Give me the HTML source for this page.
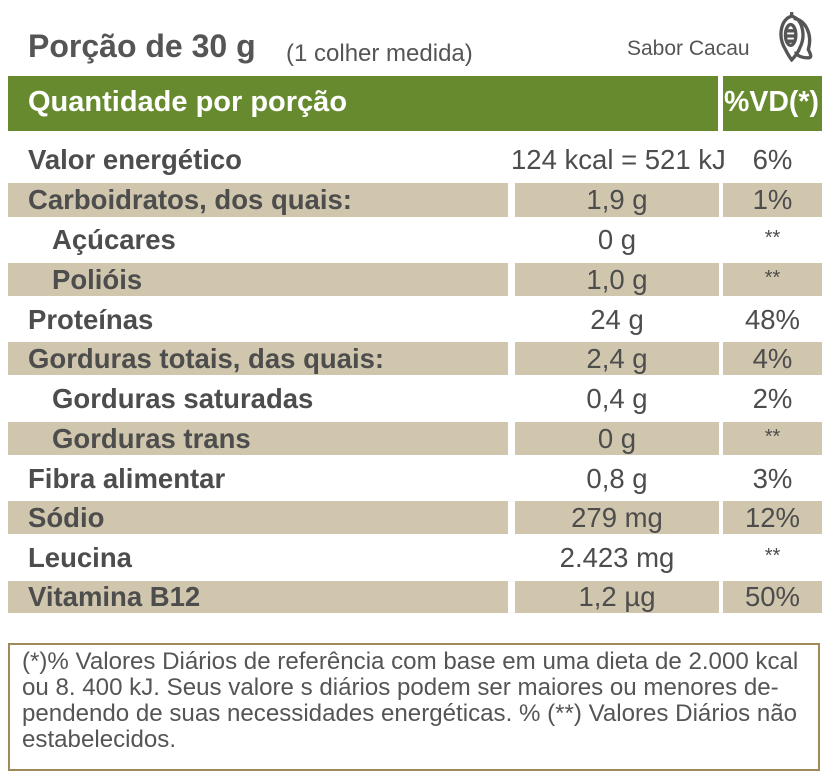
<!DOCTYPE html>
<html><head><meta charset="utf-8"><style>
*{margin:0;padding:0;box-sizing:border-box}
body{width:829px;height:782px;background:#fff;font-family:"Liberation Sans",sans-serif;color:#4d4d4d;position:relative;overflow:hidden}
.a{position:absolute;white-space:nowrap}
.bg{position:absolute;background:#d0c6ad}
.g{position:absolute;background:#678a2e}
.l{position:absolute;left:28px;font-weight:bold;font-size:27.5px;line-height:34px;white-space:nowrap}
.v{position:absolute;left:515px;width:204px;text-align:center;font-size:27.5px;line-height:34px}
.p{position:absolute;left:723px;width:99px;text-align:center;font-size:27.5px;line-height:34px}
.s{font-size:20px}
</style></head><body>
<div class="a" style="left:28px;top:28px;font-size:32px;font-weight:bold;color:#555">Porção de 30 g</div>
<div class="a" style="left:286px;top:40px;font-size:24px;color:#555">(1 colher medida)</div>
<div class="a" style="left:627px;top:37px;font-size:21px;color:#555">Sabor Cacau</div>
<svg class="a" style="left:776px;top:10px" width="48" height="52" viewBox="0 0 44 50" fill="none" stroke="#555" stroke-width="3.2">
<path d="M14 2 L14 7"/><path d="M14 6 C4 8 0 25 8 38 C11 44 14 48 14 48 C14 48 20 42 22 36 C28 24 24 8 14 6Z"/>
<path d="M16 8 C28 10 34 24 30 38 C32 42 34 46 30 46 C24 46 18 44 18 40"/>
<ellipse cx="13" cy="24" rx="5" ry="10"/><path d="M8 20 H18 M8 25 H18 M8 30 H18"/>
</svg>
<div class="g" style="left:8px;top:76px;width:710px;height:55px"></div>
<div class="g" style="left:723px;top:76px;width:99px;height:55px"></div>
<div class="a" style="left:28px;top:86px;font-size:29px;font-weight:bold;color:#fff">Quantidade por porção</div>
<div class="a" style="left:724px;top:86px;font-size:28.5px;font-weight:bold;color:#fff">%VD(*)</div>

<div class="l" style="top:143px">Valor energético</div>
<div class="a" style="left:511px;top:143px;font-size:27.5px;line-height:34px">124 kcal = 521 kJ</div>
<div class="p" style="top:143px">6%</div>

<div class="bg" style="left:8px;top:183px;width:500px;height:34px"></div><div class="bg" style="left:515px;top:183px;width:204px;height:34px"></div><div class="bg" style="left:723px;top:183px;width:99px;height:34px"></div>
<div class="l" style="top:183px">Carboidratos, dos quais:</div><div class="v" style="top:183px">1,9 g</div><div class="p" style="top:183px">1%</div>

<div class="l" style="top:223px;left:52px">Açúcares</div><div class="v" style="top:223px">0 g</div><div class="p s" style="top:221px">**</div>

<div class="bg" style="left:8px;top:263px;width:500px;height:33px"></div><div class="bg" style="left:515px;top:263px;width:204px;height:33px"></div><div class="bg" style="left:723px;top:263px;width:99px;height:33px"></div>
<div class="l" style="top:263px;left:52px">Polióis</div><div class="v" style="top:263px">1,0 g</div><div class="p s" style="top:261px">**</div>

<div class="l" style="top:303px">Proteínas</div><div class="v" style="top:303px">24 g</div><div class="p" style="top:303px">48%</div>

<div class="bg" style="left:8px;top:342px;width:500px;height:33px"></div><div class="bg" style="left:515px;top:342px;width:204px;height:33px"></div><div class="bg" style="left:723px;top:342px;width:99px;height:33px"></div>
<div class="l" style="top:342px">Gorduras totais, das quais:</div><div class="v" style="top:342px">2,4 g</div><div class="p" style="top:342px">4%</div>

<div class="l" style="top:382px;left:52px">Gorduras saturadas</div><div class="v" style="top:382px">0,4 g</div><div class="p" style="top:382px">2%</div>

<div class="bg" style="left:8px;top:422px;width:500px;height:33px"></div><div class="bg" style="left:515px;top:422px;width:204px;height:33px"></div><div class="bg" style="left:723px;top:422px;width:99px;height:33px"></div>
<div class="l" style="top:422px;left:52px">Gorduras trans</div><div class="v" style="top:422px">0 g</div><div class="p s" style="top:420px">**</div>

<div class="l" style="top:462px">Fibra alimentar</div><div class="v" style="top:462px">0,8 g</div><div class="p" style="top:462px">3%</div>

<div class="bg" style="left:8px;top:501px;width:500px;height:33px"></div><div class="bg" style="left:515px;top:501px;width:204px;height:33px"></div><div class="bg" style="left:723px;top:501px;width:99px;height:33px"></div>
<div class="l" style="top:501px">Sódio</div><div class="v" style="top:501px">279 mg</div><div class="p" style="top:501px">12%</div>

<div class="l" style="top:541px">Leucina</div><div class="v" style="top:541px">2.423 mg</div><div class="p s" style="top:539px">**</div>

<div class="bg" style="left:8px;top:581px;width:500px;height:32px"></div><div class="bg" style="left:515px;top:581px;width:204px;height:32px"></div><div class="bg" style="left:723px;top:581px;width:99px;height:32px"></div>
<div class="l" style="top:580px">Vitamina B12</div><div class="v" style="top:580px">1,2 µg</div><div class="p" style="top:580px">50%</div>

<div class="a" style="left:8px;top:643px;width:812px;height:128px;border:2px solid #a08a5a"></div>
<div class="a" style="left:22px;top:649px;width:795px;font-size:24.1px;line-height:26px;color:#555;white-space:nowrap">(*)% Valores Diários de referência com base em uma dieta de 2.000 kcal<br>ou 8. 400 kJ. Seus valore s diários podem ser maiores ou menores de-<br>pendendo de suas necessidades energéticas. % (**) Valores Diários não<br>estabelecidos.</div>
</body></html>
